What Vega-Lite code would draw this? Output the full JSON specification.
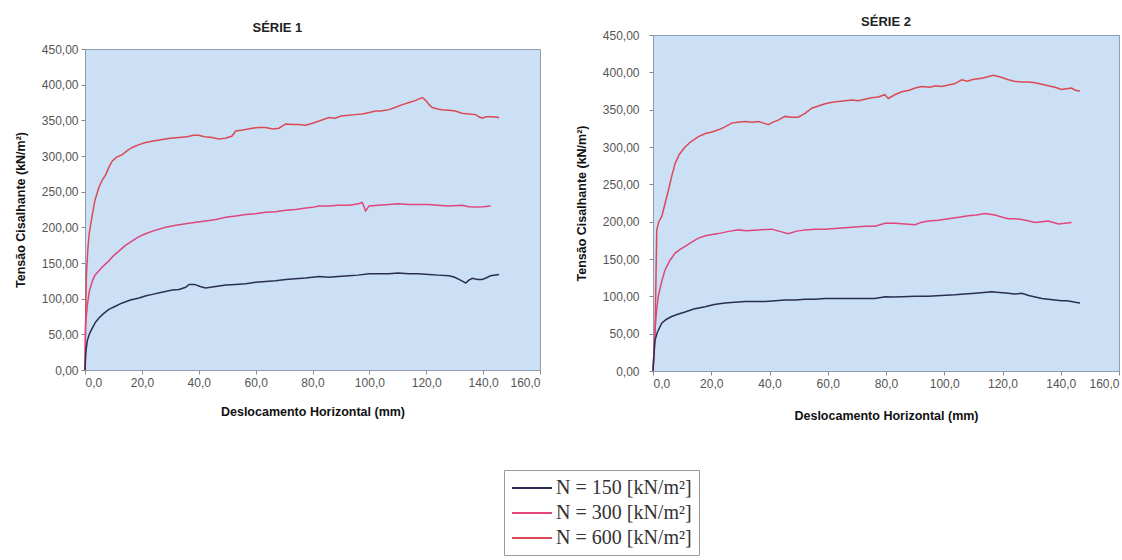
{
  "$schema": "https://vega.github.io/schema/vega-lite/v6.json",
  "padding": {"left": 13, "top": 15, "right": 0, "bottom": 0},
  "background": "white",
  "spacing": 33,
  "datasets": {
    "s1": [
      {"N": "N = 600 [kN/m²]", "x": 0, "y": 0},
      {"N": "N = 600 [kN/m²]", "x": 0.3, "y": 90},
      {"N": "N = 600 [kN/m²]", "x": 0.5, "y": 134},
      {"N": "N = 600 [kN/m²]", "x": 1, "y": 170},
      {"N": "N = 600 [kN/m²]", "x": 1.5, "y": 192},
      {"N": "N = 600 [kN/m²]", "x": 2.6, "y": 218},
      {"N": "N = 600 [kN/m²]", "x": 3.5, "y": 238},
      {"N": "N = 600 [kN/m²]", "x": 4.9, "y": 256},
      {"N": "N = 600 [kN/m²]", "x": 6, "y": 266},
      {"N": "N = 600 [kN/m²]", "x": 7.3, "y": 274},
      {"N": "N = 600 [kN/m²]", "x": 8.5, "y": 285},
      {"N": "N = 600 [kN/m²]", "x": 9.6, "y": 293},
      {"N": "N = 600 [kN/m²]", "x": 11, "y": 298},
      {"N": "N = 600 [kN/m²]", "x": 13.1, "y": 302},
      {"N": "N = 600 [kN/m²]", "x": 15, "y": 308},
      {"N": "N = 600 [kN/m²]", "x": 16.6, "y": 312},
      {"N": "N = 600 [kN/m²]", "x": 19, "y": 316},
      {"N": "N = 600 [kN/m²]", "x": 21.3, "y": 319},
      {"N": "N = 600 [kN/m²]", "x": 24, "y": 321},
      {"N": "N = 600 [kN/m²]", "x": 27.2, "y": 323},
      {"N": "N = 600 [kN/m²]", "x": 30, "y": 325},
      {"N": "N = 600 [kN/m²]", "x": 33, "y": 326},
      {"N": "N = 600 [kN/m²]", "x": 36, "y": 327},
      {"N": "N = 600 [kN/m²]", "x": 38, "y": 329},
      {"N": "N = 600 [kN/m²]", "x": 40, "y": 329},
      {"N": "N = 600 [kN/m²]", "x": 42, "y": 327},
      {"N": "N = 600 [kN/m²]", "x": 44.7, "y": 326},
      {"N": "N = 600 [kN/m²]", "x": 47, "y": 324},
      {"N": "N = 600 [kN/m²]", "x": 49.4, "y": 325},
      {"N": "N = 600 [kN/m²]", "x": 51.7, "y": 328},
      {"N": "N = 600 [kN/m²]", "x": 53, "y": 335},
      {"N": "N = 600 [kN/m²]", "x": 55, "y": 336},
      {"N": "N = 600 [kN/m²]", "x": 58.8, "y": 339},
      {"N": "N = 600 [kN/m²]", "x": 61, "y": 340},
      {"N": "N = 600 [kN/m²]", "x": 63.5, "y": 340},
      {"N": "N = 600 [kN/m²]", "x": 66, "y": 338},
      {"N": "N = 600 [kN/m²]", "x": 68.2, "y": 339},
      {"N": "N = 600 [kN/m²]", "x": 70.6, "y": 345},
      {"N": "N = 600 [kN/m²]", "x": 73, "y": 344},
      {"N": "N = 600 [kN/m²]", "x": 75, "y": 344},
      {"N": "N = 600 [kN/m²]", "x": 77.6, "y": 343},
      {"N": "N = 600 [kN/m²]", "x": 80, "y": 346},
      {"N": "N = 600 [kN/m²]", "x": 82.3, "y": 349},
      {"N": "N = 600 [kN/m²]", "x": 85.8, "y": 354},
      {"N": "N = 600 [kN/m²]", "x": 88, "y": 353},
      {"N": "N = 600 [kN/m²]", "x": 90, "y": 356},
      {"N": "N = 600 [kN/m²]", "x": 92.8, "y": 357},
      {"N": "N = 600 [kN/m²]", "x": 95, "y": 358},
      {"N": "N = 600 [kN/m²]", "x": 97.5, "y": 359},
      {"N": "N = 600 [kN/m²]", "x": 100, "y": 361},
      {"N": "N = 600 [kN/m²]", "x": 102.2, "y": 363},
      {"N": "N = 600 [kN/m²]", "x": 104, "y": 363},
      {"N": "N = 600 [kN/m²]", "x": 106.9, "y": 365},
      {"N": "N = 600 [kN/m²]", "x": 109, "y": 368},
      {"N": "N = 600 [kN/m²]", "x": 111.6, "y": 372},
      {"N": "N = 600 [kN/m²]", "x": 114, "y": 375},
      {"N": "N = 600 [kN/m²]", "x": 116.3, "y": 378},
      {"N": "N = 600 [kN/m²]", "x": 118.6, "y": 382},
      {"N": "N = 600 [kN/m²]", "x": 119.8, "y": 378},
      {"N": "N = 600 [kN/m²]", "x": 121, "y": 372},
      {"N": "N = 600 [kN/m²]", "x": 122.1, "y": 368},
      {"N": "N = 600 [kN/m²]", "x": 124, "y": 366},
      {"N": "N = 600 [kN/m²]", "x": 125.6, "y": 365},
      {"N": "N = 600 [kN/m²]", "x": 128, "y": 364},
      {"N": "N = 600 [kN/m²]", "x": 130.3, "y": 363},
      {"N": "N = 600 [kN/m²]", "x": 132.5, "y": 360},
      {"N": "N = 600 [kN/m²]", "x": 135, "y": 359},
      {"N": "N = 600 [kN/m²]", "x": 137.4, "y": 358},
      {"N": "N = 600 [kN/m²]", "x": 138.5, "y": 355},
      {"N": "N = 600 [kN/m²]", "x": 139.7, "y": 353},
      {"N": "N = 600 [kN/m²]", "x": 141, "y": 355},
      {"N": "N = 600 [kN/m²]", "x": 143.2, "y": 355},
      {"N": "N = 600 [kN/m²]", "x": 145.6, "y": 354},
      {"N": "N = 300 [kN/m²]", "x": 0, "y": 0},
      {"N": "N = 300 [kN/m²]", "x": 0.2, "y": 64},
      {"N": "N = 300 [kN/m²]", "x": 0.8, "y": 90},
      {"N": "N = 300 [kN/m²]", "x": 1.5, "y": 110},
      {"N": "N = 300 [kN/m²]", "x": 2.6, "y": 125},
      {"N": "N = 300 [kN/m²]", "x": 3.5, "y": 133},
      {"N": "N = 300 [kN/m²]", "x": 4.9, "y": 139},
      {"N": "N = 300 [kN/m²]", "x": 6.5, "y": 146},
      {"N": "N = 300 [kN/m²]", "x": 8.4, "y": 153},
      {"N": "N = 300 [kN/m²]", "x": 10, "y": 160},
      {"N": "N = 300 [kN/m²]", "x": 12, "y": 167},
      {"N": "N = 300 [kN/m²]", "x": 14, "y": 174},
      {"N": "N = 300 [kN/m²]", "x": 16.6, "y": 181},
      {"N": "N = 300 [kN/m²]", "x": 19, "y": 187},
      {"N": "N = 300 [kN/m²]", "x": 21.3, "y": 191},
      {"N": "N = 300 [kN/m²]", "x": 24, "y": 195},
      {"N": "N = 300 [kN/m²]", "x": 28.4, "y": 200},
      {"N": "N = 300 [kN/m²]", "x": 32, "y": 203},
      {"N": "N = 300 [kN/m²]", "x": 35.4, "y": 205},
      {"N": "N = 300 [kN/m²]", "x": 39, "y": 207},
      {"N": "N = 300 [kN/m²]", "x": 42.4, "y": 209},
      {"N": "N = 300 [kN/m²]", "x": 46, "y": 211},
      {"N": "N = 300 [kN/m²]", "x": 49.5, "y": 214},
      {"N": "N = 300 [kN/m²]", "x": 53, "y": 216},
      {"N": "N = 300 [kN/m²]", "x": 56.5, "y": 218},
      {"N": "N = 300 [kN/m²]", "x": 60, "y": 219},
      {"N": "N = 300 [kN/m²]", "x": 63.5, "y": 221},
      {"N": "N = 300 [kN/m²]", "x": 67, "y": 222},
      {"N": "N = 300 [kN/m²]", "x": 70.6, "y": 224},
      {"N": "N = 300 [kN/m²]", "x": 74, "y": 225},
      {"N": "N = 300 [kN/m²]", "x": 77.6, "y": 227},
      {"N": "N = 300 [kN/m²]", "x": 80, "y": 228},
      {"N": "N = 300 [kN/m²]", "x": 82.3, "y": 230},
      {"N": "N = 300 [kN/m²]", "x": 85.8, "y": 230},
      {"N": "N = 300 [kN/m²]", "x": 89, "y": 231},
      {"N": "N = 300 [kN/m²]", "x": 92.8, "y": 231},
      {"N": "N = 300 [kN/m²]", "x": 96.3, "y": 233},
      {"N": "N = 300 [kN/m²]", "x": 97.5, "y": 235},
      {"N": "N = 300 [kN/m²]", "x": 98.7, "y": 223},
      {"N": "N = 300 [kN/m²]", "x": 99.9, "y": 230},
      {"N": "N = 300 [kN/m²]", "x": 103, "y": 231},
      {"N": "N = 300 [kN/m²]", "x": 106.9, "y": 232},
      {"N": "N = 300 [kN/m²]", "x": 110, "y": 233},
      {"N": "N = 300 [kN/m²]", "x": 113.9, "y": 232},
      {"N": "N = 300 [kN/m²]", "x": 117, "y": 232},
      {"N": "N = 300 [kN/m²]", "x": 120.9, "y": 232},
      {"N": "N = 300 [kN/m²]", "x": 124, "y": 231},
      {"N": "N = 300 [kN/m²]", "x": 128, "y": 230},
      {"N": "N = 300 [kN/m²]", "x": 132.6, "y": 231},
      {"N": "N = 300 [kN/m²]", "x": 135, "y": 229},
      {"N": "N = 300 [kN/m²]", "x": 137.4, "y": 228.5},
      {"N": "N = 300 [kN/m²]", "x": 140, "y": 229},
      {"N": "N = 300 [kN/m²]", "x": 142.6, "y": 230},
      {"N": "N = 150 [kN/m²]", "x": 0, "y": 0},
      {"N": "N = 150 [kN/m²]", "x": 0.3, "y": 25},
      {"N": "N = 150 [kN/m²]", "x": 0.8, "y": 41},
      {"N": "N = 150 [kN/m²]", "x": 1.6, "y": 51},
      {"N": "N = 150 [kN/m²]", "x": 2.6, "y": 59},
      {"N": "N = 150 [kN/m²]", "x": 3.7, "y": 67},
      {"N": "N = 150 [kN/m²]", "x": 4.9, "y": 73},
      {"N": "N = 150 [kN/m²]", "x": 6.5, "y": 79},
      {"N": "N = 150 [kN/m²]", "x": 8.4, "y": 85},
      {"N": "N = 150 [kN/m²]", "x": 10.5, "y": 89},
      {"N": "N = 150 [kN/m²]", "x": 13.1, "y": 94},
      {"N": "N = 150 [kN/m²]", "x": 16, "y": 98},
      {"N": "N = 150 [kN/m²]", "x": 19, "y": 101},
      {"N": "N = 150 [kN/m²]", "x": 21.5, "y": 104},
      {"N": "N = 150 [kN/m²]", "x": 23.7, "y": 106},
      {"N": "N = 150 [kN/m²]", "x": 27, "y": 109},
      {"N": "N = 150 [kN/m²]", "x": 30.7, "y": 112},
      {"N": "N = 150 [kN/m²]", "x": 33, "y": 113},
      {"N": "N = 150 [kN/m²]", "x": 35.4, "y": 116},
      {"N": "N = 150 [kN/m²]", "x": 36.6, "y": 120},
      {"N": "N = 150 [kN/m²]", "x": 38.5, "y": 120},
      {"N": "N = 150 [kN/m²]", "x": 40.5, "y": 117},
      {"N": "N = 150 [kN/m²]", "x": 42.4, "y": 115},
      {"N": "N = 150 [kN/m²]", "x": 46, "y": 117},
      {"N": "N = 150 [kN/m²]", "x": 49.5, "y": 119},
      {"N": "N = 150 [kN/m²]", "x": 53, "y": 120},
      {"N": "N = 150 [kN/m²]", "x": 56.5, "y": 121},
      {"N": "N = 150 [kN/m²]", "x": 60, "y": 123},
      {"N": "N = 150 [kN/m²]", "x": 63.5, "y": 124},
      {"N": "N = 150 [kN/m²]", "x": 67, "y": 125},
      {"N": "N = 150 [kN/m²]", "x": 70.6, "y": 127},
      {"N": "N = 150 [kN/m²]", "x": 74, "y": 128},
      {"N": "N = 150 [kN/m²]", "x": 77.6, "y": 129},
      {"N": "N = 150 [kN/m²]", "x": 80, "y": 130},
      {"N": "N = 150 [kN/m²]", "x": 82.3, "y": 131},
      {"N": "N = 150 [kN/m²]", "x": 85.8, "y": 130},
      {"N": "N = 150 [kN/m²]", "x": 89, "y": 131},
      {"N": "N = 150 [kN/m²]", "x": 92.8, "y": 132},
      {"N": "N = 150 [kN/m²]", "x": 96, "y": 133},
      {"N": "N = 150 [kN/m²]", "x": 99.9, "y": 135},
      {"N": "N = 150 [kN/m²]", "x": 103, "y": 135},
      {"N": "N = 150 [kN/m²]", "x": 106.9, "y": 135},
      {"N": "N = 150 [kN/m²]", "x": 110, "y": 136},
      {"N": "N = 150 [kN/m²]", "x": 113.9, "y": 135},
      {"N": "N = 150 [kN/m²]", "x": 117, "y": 135},
      {"N": "N = 150 [kN/m²]", "x": 120.9, "y": 134},
      {"N": "N = 150 [kN/m²]", "x": 124, "y": 133},
      {"N": "N = 150 [kN/m²]", "x": 128, "y": 132},
      {"N": "N = 150 [kN/m²]", "x": 130, "y": 130},
      {"N": "N = 150 [kN/m²]", "x": 131.5, "y": 127},
      {"N": "N = 150 [kN/m²]", "x": 133, "y": 124},
      {"N": "N = 150 [kN/m²]", "x": 133.9, "y": 122},
      {"N": "N = 150 [kN/m²]", "x": 135, "y": 126},
      {"N": "N = 150 [kN/m²]", "x": 136.2, "y": 128.5},
      {"N": "N = 150 [kN/m²]", "x": 138, "y": 127},
      {"N": "N = 150 [kN/m²]", "x": 139.7, "y": 127},
      {"N": "N = 150 [kN/m²]", "x": 141, "y": 129},
      {"N": "N = 150 [kN/m²]", "x": 142.6, "y": 132},
      {"N": "N = 150 [kN/m²]", "x": 145.6, "y": 134}
    ],
    "s2": [
      {"N": "N = 600 [kN/m²]", "x": 0, "y": 0},
      {"N": "N = 600 [kN/m²]", "x": 0.4, "y": 30},
      {"N": "N = 600 [kN/m²]", "x": 0.7, "y": 55},
      {"N": "N = 600 [kN/m²]", "x": 1, "y": 120},
      {"N": "N = 600 [kN/m²]", "x": 1.3, "y": 189},
      {"N": "N = 600 [kN/m²]", "x": 2, "y": 200},
      {"N": "N = 600 [kN/m²]", "x": 3, "y": 207},
      {"N": "N = 600 [kN/m²]", "x": 4, "y": 222},
      {"N": "N = 600 [kN/m²]", "x": 5.3, "y": 242},
      {"N": "N = 600 [kN/m²]", "x": 6.5, "y": 262},
      {"N": "N = 600 [kN/m²]", "x": 7.6, "y": 278},
      {"N": "N = 600 [kN/m²]", "x": 9, "y": 290},
      {"N": "N = 600 [kN/m²]", "x": 11, "y": 300},
      {"N": "N = 600 [kN/m²]", "x": 13, "y": 307},
      {"N": "N = 600 [kN/m²]", "x": 15.6, "y": 314},
      {"N": "N = 600 [kN/m²]", "x": 18, "y": 318},
      {"N": "N = 600 [kN/m²]", "x": 20.2, "y": 320},
      {"N": "N = 600 [kN/m²]", "x": 22.5, "y": 323},
      {"N": "N = 600 [kN/m²]", "x": 24.7, "y": 327},
      {"N": "N = 600 [kN/m²]", "x": 27, "y": 332},
      {"N": "N = 600 [kN/m²]", "x": 29, "y": 333},
      {"N": "N = 600 [kN/m²]", "x": 31.6, "y": 334},
      {"N": "N = 600 [kN/m²]", "x": 34, "y": 333},
      {"N": "N = 600 [kN/m²]", "x": 36.2, "y": 334},
      {"N": "N = 600 [kN/m²]", "x": 38, "y": 332},
      {"N": "N = 600 [kN/m²]", "x": 39.6, "y": 330},
      {"N": "N = 600 [kN/m²]", "x": 41, "y": 333},
      {"N": "N = 600 [kN/m²]", "x": 43, "y": 336},
      {"N": "N = 600 [kN/m²]", "x": 45.3, "y": 341},
      {"N": "N = 600 [kN/m²]", "x": 47.5, "y": 340},
      {"N": "N = 600 [kN/m²]", "x": 49.9, "y": 340},
      {"N": "N = 600 [kN/m²]", "x": 52.2, "y": 345},
      {"N": "N = 600 [kN/m²]", "x": 54.5, "y": 352},
      {"N": "N = 600 [kN/m²]", "x": 56.8, "y": 355},
      {"N": "N = 600 [kN/m²]", "x": 59.1, "y": 358},
      {"N": "N = 600 [kN/m²]", "x": 61.5, "y": 360},
      {"N": "N = 600 [kN/m²]", "x": 63.6, "y": 361},
      {"N": "N = 600 [kN/m²]", "x": 66, "y": 362},
      {"N": "N = 600 [kN/m²]", "x": 68.2, "y": 363},
      {"N": "N = 600 [kN/m²]", "x": 70.5, "y": 362},
      {"N": "N = 600 [kN/m²]", "x": 72.8, "y": 364},
      {"N": "N = 600 [kN/m²]", "x": 75, "y": 366},
      {"N": "N = 600 [kN/m²]", "x": 77.3, "y": 367},
      {"N": "N = 600 [kN/m²]", "x": 79.6, "y": 370},
      {"N": "N = 600 [kN/m²]", "x": 80.8, "y": 365},
      {"N": "N = 600 [kN/m²]", "x": 83, "y": 370},
      {"N": "N = 600 [kN/m²]", "x": 85.4, "y": 374},
      {"N": "N = 600 [kN/m²]", "x": 88, "y": 376},
      {"N": "N = 600 [kN/m²]", "x": 90, "y": 379},
      {"N": "N = 600 [kN/m²]", "x": 92.3, "y": 381},
      {"N": "N = 600 [kN/m²]", "x": 95, "y": 380},
      {"N": "N = 600 [kN/m²]", "x": 97, "y": 382},
      {"N": "N = 600 [kN/m²]", "x": 99.1, "y": 381},
      {"N": "N = 600 [kN/m²]", "x": 101.5, "y": 383},
      {"N": "N = 600 [kN/m²]", "x": 103.7, "y": 385},
      {"N": "N = 600 [kN/m²]", "x": 106, "y": 390},
      {"N": "N = 600 [kN/m²]", "x": 108, "y": 388},
      {"N": "N = 600 [kN/m²]", "x": 109.4, "y": 390},
      {"N": "N = 600 [kN/m²]", "x": 111, "y": 391},
      {"N": "N = 600 [kN/m²]", "x": 112.9, "y": 392},
      {"N": "N = 600 [kN/m²]", "x": 115, "y": 394},
      {"N": "N = 600 [kN/m²]", "x": 116.8, "y": 396},
      {"N": "N = 600 [kN/m²]", "x": 119, "y": 394},
      {"N": "N = 600 [kN/m²]", "x": 122, "y": 390},
      {"N": "N = 600 [kN/m²]", "x": 124, "y": 388},
      {"N": "N = 600 [kN/m²]", "x": 126.6, "y": 387},
      {"N": "N = 600 [kN/m²]", "x": 129, "y": 387},
      {"N": "N = 600 [kN/m²]", "x": 131.2, "y": 386},
      {"N": "N = 600 [kN/m²]", "x": 133.5, "y": 384},
      {"N": "N = 600 [kN/m²]", "x": 135.7, "y": 382},
      {"N": "N = 600 [kN/m²]", "x": 138, "y": 380},
      {"N": "N = 600 [kN/m²]", "x": 140.3, "y": 377},
      {"N": "N = 600 [kN/m²]", "x": 142, "y": 378},
      {"N": "N = 600 [kN/m²]", "x": 143.7, "y": 379},
      {"N": "N = 600 [kN/m²]", "x": 145, "y": 376},
      {"N": "N = 600 [kN/m²]", "x": 146.6, "y": 375},
      {"N": "N = 300 [kN/m²]", "x": 0, "y": 0},
      {"N": "N = 300 [kN/m²]", "x": 0.4, "y": 30},
      {"N": "N = 300 [kN/m²]", "x": 0.7, "y": 55},
      {"N": "N = 300 [kN/m²]", "x": 1.2, "y": 80},
      {"N": "N = 300 [kN/m²]", "x": 1.8, "y": 100},
      {"N": "N = 300 [kN/m²]", "x": 3, "y": 120},
      {"N": "N = 300 [kN/m²]", "x": 4.1, "y": 135},
      {"N": "N = 300 [kN/m²]", "x": 5.8, "y": 148},
      {"N": "N = 300 [kN/m²]", "x": 7.6, "y": 158},
      {"N": "N = 300 [kN/m²]", "x": 9.3, "y": 163},
      {"N": "N = 300 [kN/m²]", "x": 11, "y": 167},
      {"N": "N = 300 [kN/m²]", "x": 13, "y": 172},
      {"N": "N = 300 [kN/m²]", "x": 15.6, "y": 178},
      {"N": "N = 300 [kN/m²]", "x": 18, "y": 181},
      {"N": "N = 300 [kN/m²]", "x": 22.4, "y": 184},
      {"N": "N = 300 [kN/m²]", "x": 26, "y": 187},
      {"N": "N = 300 [kN/m²]", "x": 29.3, "y": 189},
      {"N": "N = 300 [kN/m²]", "x": 32, "y": 188},
      {"N": "N = 300 [kN/m²]", "x": 36.2, "y": 189},
      {"N": "N = 300 [kN/m²]", "x": 40.8, "y": 190},
      {"N": "N = 300 [kN/m²]", "x": 43.5, "y": 187},
      {"N": "N = 300 [kN/m²]", "x": 46.5, "y": 184},
      {"N": "N = 300 [kN/m²]", "x": 49, "y": 187},
      {"N": "N = 300 [kN/m²]", "x": 52.2, "y": 189},
      {"N": "N = 300 [kN/m²]", "x": 55.5, "y": 190},
      {"N": "N = 300 [kN/m²]", "x": 59.1, "y": 190},
      {"N": "N = 300 [kN/m²]", "x": 62.5, "y": 191},
      {"N": "N = 300 [kN/m²]", "x": 65.9, "y": 192},
      {"N": "N = 300 [kN/m²]", "x": 69.5, "y": 193},
      {"N": "N = 300 [kN/m²]", "x": 72.8, "y": 194},
      {"N": "N = 300 [kN/m²]", "x": 76.2, "y": 194},
      {"N": "N = 300 [kN/m²]", "x": 79.7, "y": 198},
      {"N": "N = 300 [kN/m²]", "x": 83.1, "y": 198},
      {"N": "N = 300 [kN/m²]", "x": 86.5, "y": 197},
      {"N": "N = 300 [kN/m²]", "x": 90, "y": 196},
      {"N": "N = 300 [kN/m²]", "x": 92, "y": 199},
      {"N": "N = 300 [kN/m²]", "x": 94.5, "y": 201},
      {"N": "N = 300 [kN/m²]", "x": 98, "y": 202},
      {"N": "N = 300 [kN/m²]", "x": 101.4, "y": 204},
      {"N": "N = 300 [kN/m²]", "x": 105, "y": 206},
      {"N": "N = 300 [kN/m²]", "x": 108.3, "y": 208},
      {"N": "N = 300 [kN/m²]", "x": 111, "y": 209},
      {"N": "N = 300 [kN/m²]", "x": 114, "y": 211},
      {"N": "N = 300 [kN/m²]", "x": 117.4, "y": 209},
      {"N": "N = 300 [kN/m²]", "x": 120, "y": 206},
      {"N": "N = 300 [kN/m²]", "x": 122, "y": 204},
      {"N": "N = 300 [kN/m²]", "x": 124, "y": 204},
      {"N": "N = 300 [kN/m²]", "x": 126.6, "y": 203},
      {"N": "N = 300 [kN/m²]", "x": 129, "y": 201},
      {"N": "N = 300 [kN/m²]", "x": 131.2, "y": 199},
      {"N": "N = 300 [kN/m²]", "x": 133.5, "y": 200},
      {"N": "N = 300 [kN/m²]", "x": 135.7, "y": 201},
      {"N": "N = 300 [kN/m²]", "x": 137.5, "y": 199},
      {"N": "N = 300 [kN/m²]", "x": 139.2, "y": 197},
      {"N": "N = 300 [kN/m²]", "x": 141.5, "y": 198},
      {"N": "N = 300 [kN/m²]", "x": 143.7, "y": 199},
      {"N": "N = 150 [kN/m²]", "x": 0, "y": 0},
      {"N": "N = 150 [kN/m²]", "x": 0.3, "y": 20},
      {"N": "N = 150 [kN/m²]", "x": 0.7, "y": 41},
      {"N": "N = 150 [kN/m²]", "x": 1.5, "y": 52},
      {"N": "N = 150 [kN/m²]", "x": 3, "y": 64},
      {"N": "N = 150 [kN/m²]", "x": 4.5, "y": 69},
      {"N": "N = 150 [kN/m²]", "x": 6.4, "y": 73},
      {"N": "N = 150 [kN/m²]", "x": 8.5, "y": 76},
      {"N": "N = 150 [kN/m²]", "x": 11, "y": 79},
      {"N": "N = 150 [kN/m²]", "x": 14, "y": 83},
      {"N": "N = 150 [kN/m²]", "x": 17.9, "y": 86},
      {"N": "N = 150 [kN/m²]", "x": 21, "y": 89},
      {"N": "N = 150 [kN/m²]", "x": 24.7, "y": 91},
      {"N": "N = 150 [kN/m²]", "x": 28, "y": 92},
      {"N": "N = 150 [kN/m²]", "x": 31.6, "y": 93},
      {"N": "N = 150 [kN/m²]", "x": 35, "y": 93},
      {"N": "N = 150 [kN/m²]", "x": 38.5, "y": 93},
      {"N": "N = 150 [kN/m²]", "x": 42, "y": 94},
      {"N": "N = 150 [kN/m²]", "x": 45.3, "y": 95},
      {"N": "N = 150 [kN/m²]", "x": 48.8, "y": 95},
      {"N": "N = 150 [kN/m²]", "x": 52.2, "y": 96},
      {"N": "N = 150 [kN/m²]", "x": 55.5, "y": 96},
      {"N": "N = 150 [kN/m²]", "x": 59.1, "y": 97},
      {"N": "N = 150 [kN/m²]", "x": 62.5, "y": 97},
      {"N": "N = 150 [kN/m²]", "x": 65.9, "y": 97},
      {"N": "N = 150 [kN/m²]", "x": 69.5, "y": 97},
      {"N": "N = 150 [kN/m²]", "x": 72.8, "y": 97},
      {"N": "N = 150 [kN/m²]", "x": 76.2, "y": 97},
      {"N": "N = 150 [kN/m²]", "x": 79.7, "y": 99.5},
      {"N": "N = 150 [kN/m²]", "x": 82.5, "y": 99},
      {"N": "N = 150 [kN/m²]", "x": 85.4, "y": 99.5},
      {"N": "N = 150 [kN/m²]", "x": 90, "y": 100},
      {"N": "N = 150 [kN/m²]", "x": 94.5, "y": 100},
      {"N": "N = 150 [kN/m²]", "x": 99, "y": 101},
      {"N": "N = 150 [kN/m²]", "x": 103.7, "y": 102},
      {"N": "N = 150 [kN/m²]", "x": 107, "y": 103},
      {"N": "N = 150 [kN/m²]", "x": 110.6, "y": 104},
      {"N": "N = 150 [kN/m²]", "x": 113.5, "y": 105},
      {"N": "N = 150 [kN/m²]", "x": 116.3, "y": 106},
      {"N": "N = 150 [kN/m²]", "x": 119, "y": 105},
      {"N": "N = 150 [kN/m²]", "x": 122, "y": 104},
      {"N": "N = 150 [kN/m²]", "x": 124, "y": 103},
      {"N": "N = 150 [kN/m²]", "x": 126.6, "y": 104},
      {"N": "N = 150 [kN/m²]", "x": 129, "y": 101},
      {"N": "N = 150 [kN/m²]", "x": 131.2, "y": 99},
      {"N": "N = 150 [kN/m²]", "x": 133.5, "y": 97},
      {"N": "N = 150 [kN/m²]", "x": 135.7, "y": 96},
      {"N": "N = 150 [kN/m²]", "x": 138, "y": 95},
      {"N": "N = 150 [kN/m²]", "x": 140.3, "y": 94},
      {"N": "N = 150 [kN/m²]", "x": 142, "y": 94},
      {"N": "N = 150 [kN/m²]", "x": 143.7, "y": 93},
      {"N": "N = 150 [kN/m²]", "x": 145, "y": 92},
      {"N": "N = 150 [kN/m²]", "x": 146.6, "y": 91}
    ]
  },
  "hconcat": [
    {
      "title": {"text": "SÉRIE 1", "offset": -4},
      "spacing": 0,
      "vconcat": [
        {
          "width": 455,
          "height": 4,
          "data": {"values": [{}]},
          "mark": {"type": "text"},
          "encoding": {"text": {"value": ""}},
          "view": {"fill": null, "stroke": null}
        },
        {
          "width": 455,
          "height": 321,
          "data": {"name": "s1"},
          "mark": {"type": "line", "strokeWidth": 1.5},
          "encoding": {
            "x": {"field": "x", "type": "quantitative", "scale": {"domain": [0, 160], "nice": false},
                  "axis": {"values": [0, 20, 40, 60, 80, 100, 120, 140, 160], "labelExpr": "replace(format(datum.value, '.1f'), '.', ',')", "title": "Deslocamento Horizontal (mm)", "titlePadding": 17}},
            "y": {"field": "y", "type": "quantitative", "scale": {"domain": [0, 450], "nice": false},
                  "axis": {"values": [0, 50, 100, 150, 200, 250, 300, 350, 400, 450], "labelExpr": "replace(format(datum.value, '.2f'), '.', ',')", "title": "Tensão Cisalhante (kN/m²)"}},
            "color": {"field": "N", "type": "nominal",
                      "scale": {"domain": ["N = 150 [kN/m²]", "N = 300 [kN/m²]", "N = 600 [kN/m²]"], "range": ["#2A2F52", "#E0457C", "#DA4A55"]},
                      "legend": {"orient": "none", "legendX": 419, "legendY": 435, "title": null}}
          }
        }
      ]
    },
    {
      "width": 466,
      "height": 336,
      "title": {"text": "SÉRIE 2", "offset": 0},
      "data": {"name": "s2"},
      "mark": {"type": "line", "strokeWidth": 1.5},
      "encoding": {
        "x": {"field": "x", "type": "quantitative", "scale": {"domain": [0, 160], "nice": false},
              "axis": {"values": [0, 20, 40, 60, 80, 100, 120, 140, 160], "labelExpr": "replace(format(datum.value, '.1f'), '.', ',')", "title": "Deslocamento Horizontal (mm)", "titlePadding": 20}},
        "y": {"field": "y", "type": "quantitative", "scale": {"domain": [0, 450], "nice": false},
              "axis": {"values": [0, 50, 100, 150, 200, 250, 300, 350, 400, 450], "labelExpr": "replace(format(datum.value, '.2f'), '.', ',')", "title": "Tensão Cisalhante (kN/m²)", "labelPadding": 10}},
        "color": {"field": "N", "type": "nominal",
                  "scale": {"domain": ["N = 150 [kN/m²]", "N = 300 [kN/m²]", "N = 600 [kN/m²]"], "range": ["#2A2F52", "#E0457C", "#DA4A55"]},
                  "legend": {"orient": "none", "legendX": 419, "legendY": 435, "title": null}}
      }
    }
  ],
  "resolve": {"scale": {"color": "shared"}, "legend": {"color": "shared"}},
  "config": {
    "view": {"fill": "#CBE0F5", "stroke": "#8E9CB4"},
    "axis": {"grid": false, "labelFont": "Liberation Sans", "labelFontSize": 12, "labelColor": "#555555",
             "titleFont": "Liberation Sans", "titleFontSize": 12.5, "titleFontWeight": "bold", "titleColor": "#111111",
             "domainColor": "#8E9CB4", "tickColor": "#888888", "tickSize": 4, "labelPadding": 3, "titlePadding": 14},
    "title": {"font": "Liberation Sans", "fontSize": 13, "fontWeight": "bold", "color": "#222222", "anchor": "middle"},
    "legend": {"symbolType": "M-1,0H3", "symbolSize": 400, "symbolStrokeWidth": 2, "labelFont": "Liberation Serif",
               "labelFontSize": 20, "labelColor": "#333333", "strokeColor": "#9A9A9A", "fillColor": "#FFFFFF",
               "padding": 7, "rowPadding": 4, "labelOffset": 23}
  }
}
